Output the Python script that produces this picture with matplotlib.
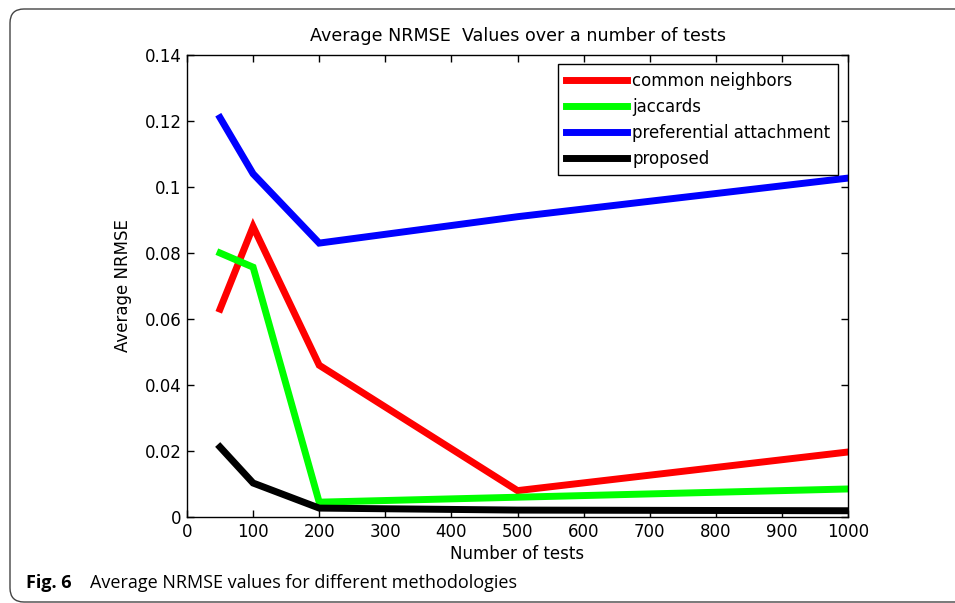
import matplotlib.pyplot as plt
from matplotlib.path import Path
from matplotlib.patches import PathPatch

# --- data ---
n_tests = [50, 100, 200, 500, 1000]
common_neighbors = [0.063, 0.088, 0.046, 0.008, 0.0197]
jaccards = [0.080, 0.0757, 0.0045, 0.006, 0.0085]
preferential = [0.121, 0.104, 0.083, 0.091, 0.1027]
proposed = [0.0212, 0.0103, 0.0027, 0.0021, 0.0019]

series = [
    ("common neighbors", common_neighbors, "#ff0000"),
    ("jaccards", jaccards, "#00ff00"),
    ("preferential attachment", preferential, "#0000ff"),
    ("proposed", proposed, "#000000"),
]

plt.rcParams['font.family'] = ['DejaVu Sans']
FS = 12

W, H = 955, 603
fig = plt.figure(figsize=(W / 100, H / 100), dpi=100)
ax = fig.add_axes([0.1958, 0.1426, 0.888 - 0.1958, 0.9088 - 0.1426])

for name, vals, col in series:
    ax.plot(n_tests, vals, color=col, lw=5, label=name, solid_joinstyle='miter')

ax.set_xlim(0, 1000)
ax.set_ylim(0, 0.14)
ax.set_xticks(range(0, 1001, 100))
ax.set_yticks([0, 0.02, 0.04, 0.06, 0.08, 0.1, 0.12, 0.14])
ax.set_yticklabels(["0", "0.02", "0.04", "0.06", "0.08", "0.1", "0.12", "0.14"])
ax.tick_params(direction='in', length=5, width=1, top=True, right=True,
               labelsize=FS, pad=4)
for s in ax.spines.values():
    s.set_linewidth(1)

ax.set_title("Average NRMSE  Values over a number of tests", fontsize=12.6, pad=10)
ax.set_xlabel("Number of tests", fontsize=FS, labelpad=3)
ax.set_ylabel("Average NRMSE", fontsize=FS, labelpad=9)

leg = ax.legend(loc='upper right', bbox_to_anchor=(0.985, 0.9805), fontsize=FS,
                fancybox=False, framealpha=1, edgecolor='black',
                handlelength=3.7, handletextpad=0.3, borderpad=0.45,
                labelspacing=0.48, borderaxespad=0)
leg.get_frame().set_linewidth(1)

# figure border (open on the right, rounded on the left) in pixel coords
x0, y_top, y_bot, r = 10, 9, 602, 14
px = [(W + 5, y_top), (x0 + r, y_top), (x0, y_top), (x0, y_top + r),
      (x0, y_bot - r), (x0, y_bot), (x0 + r, y_bot), (W + 5, y_bot)]
codes = [Path.MOVETO, Path.LINETO, Path.CURVE3, Path.CURVE3,
         Path.LINETO, Path.CURVE3, Path.CURVE3, Path.LINETO]
verts = [(x / W, 1 - y / H) for x, y in px]
fig.patches.append(PathPatch(Path(verts, codes), transform=fig.transFigure,
                             fill=False, edgecolor='#444444', lw=1))

fig.text(26 / W, 1 - 583 / H, "Fig. 6", fontsize=13, fontweight='bold',
         family=['Open Sans', 'DejaVu Sans'], va='center')
fig.text(90 / W, 1 - 583 / H, "Average NRMSE values for different methodologies",
         fontsize=13, family=['Open Sans', 'DejaVu Sans'], va='center')

fig.savefig("out.png", dpi=100)
